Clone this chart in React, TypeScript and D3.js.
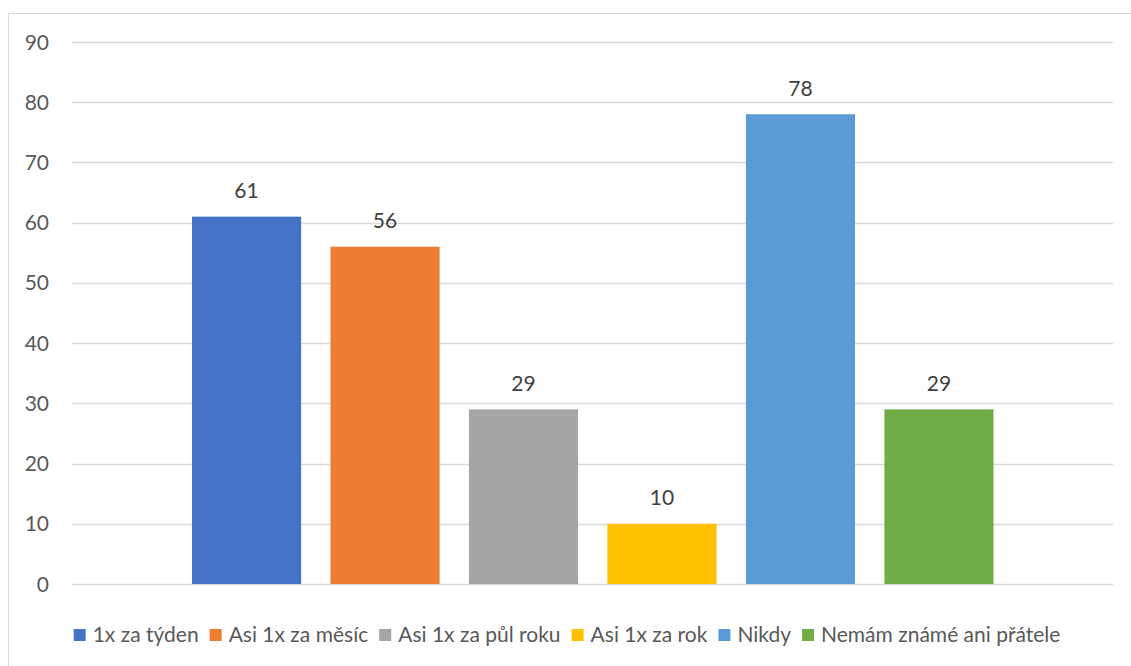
import React, { useEffect, useRef } from "react";
import * as d3 from "d3";

const seriesNames = [
  "1x za týden",
  "Asi 1x za měsíc",
  "Asi 1x za půl roku",
  "Asi 1x za rok",
  "Nikdy",
  "Nemám známé ani přátele",
];
const seriesValues = [61, 56, 29, 10, 78, 29];
const seriesColors = ["#4472C4", "#ED7D31", "#A5A5A5", "#FFC000", "#5B9BD5", "#70AD47"];
const yTicks = [0, 10, 20, 30, 40, 50, 60, 70, 80, 90];

const W = 1131;
const H = 666;
const FONT = "Lato, Carlito, Calibri, sans-serif";
const FS = 21;

export default function App() {
  const ref = useRef<SVGSVGElement>(null);

  useEffect(() => {
    const svg = d3.select(ref.current);
    svg.selectAll("*").remove();

    // chart border
    svg.append("rect")
      .attr("x", 8.5).attr("y", 13.5)
      .attr("width", 1140).attr("height", 700)
      .attr("fill", "white").attr("stroke", "#d9d9d9").attr("stroke-width", 1);

    const plotLeft = 72, plotRight = 1113;
    const y = d3.scaleLinear().domain([0, 90]).range([584, 42]);

    // gridlines
    svg.append("g").selectAll("line").data(yTicks).join("line")
      .attr("x1", plotLeft).attr("x2", plotRight)
      .attr("y1", d => Math.round(y(d)) + 0.5).attr("y2", d => Math.round(y(d)) + 0.5)
      .attr("stroke", "#d9d9d9").attr("stroke-width", 1.3);

    // tick labels
    svg.append("g").selectAll("text").data(yTicks).join("text")
      .attr("x", 49).attr("y", d => y(d) + 7.5)
      .attr("text-anchor", "end")
      .attr("font-family", FONT).attr("font-size", FS)
      .attr("fill", "#595959")
      .text(d => String(d));

    const x = d3.scaleBand<string>()
      .domain(seriesNames)
      .range([192, 993.5])
      .paddingInner(0.212)
      .paddingOuter(0);

    const data = seriesNames.map((n, i) => ({ n, v: seriesValues[i], c: seriesColors[i] }));

    svg.append("g").selectAll("rect").data(data).join("rect")
      .attr("x", d => x(d.n)!)
      .attr("y", d => y(d.v))
      .attr("width", x.bandwidth())
      .attr("height", d => y(0) - y(d.v))
      .attr("fill", d => d.c);

    svg.append("g").selectAll("text").data(data).join("text")
      .attr("x", d => x(d.n)! + x.bandwidth() / 2)
      .attr("y", d => y(d.v) - 18.5)
      .attr("text-anchor", "middle")
      .attr("font-family", FONT).attr("font-size", FS)
      .attr("fill", "#404040")
      .text(d => String(d.v));

    // legend
    const lg = svg.append("g");
    const items = lg.selectAll("g").data(data).join("g");
    items.append("rect")
      .attr("y", 0)
      .attr("width", 12).attr("height", 12)
      .attr("fill", d => d.c);
    const texts = items.append("text")
      .attr("x", 19).attr("y", 13)
      .attr("font-family", FONT).attr("font-size", FS)
      .attr("fill", "#595959")
      .text(d => d.n);
    const widths: number[] = [];
    texts.each(function () { widths.push((this as SVGTextElement).getComputedTextLength()); });
    const gap = 11;
    const itemW = widths.map(w => 19 + w);
    const total = d3.sum(itemW) + gap * (itemW.length - 1);
    let cx = 567 - total / 2;
    const xs: number[] = [];
    itemW.forEach(w => { xs.push(cx); cx += w + gap; });
    items.attr("transform", (_d, i) => `translate(${xs[i]},629)`);
  }, []);

  return (
    <svg ref={ref} width={W} height={H} style={{ display: "block", position: "absolute", left: 0, top: 0 }} />
  );
}
